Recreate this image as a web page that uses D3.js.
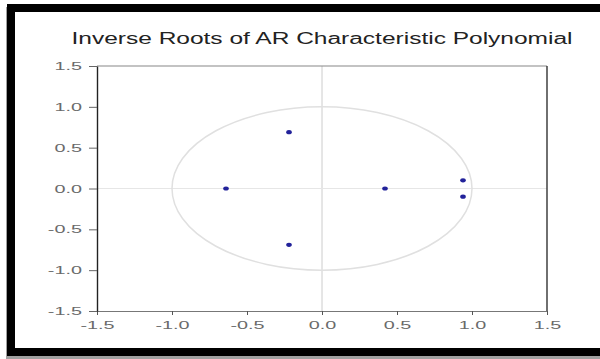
<!DOCTYPE html>
<html>
<head>
<meta charset="utf-8">
<script src="https://cdn.jsdelivr.net/npm/d3@7"></script>
<style>
  body { margin: 0; background: #fff; }
  svg text { font-family: "Liberation Sans", Arial, sans-serif; }
</style>
</head>
<body>
<svg id="viz"></svg>
<script>
// inverse roots, real and imaginary parts
let rootsRe = [-0.64, -0.22, -0.22, 0.42, 0.94, 0.94];
let rootsIm = [0, 0.69, -0.69, 0, 0.1, -0.1];
let tickVals = [-1.5, -1.0, -0.5, 0.0, 0.5, 1.0, 1.5];
let title = "Inverse Roots of AR Characteristic Polynomial";

let width = 600;
let height = 359;
let plot = {left: 97, right: 547, top: 66, bottom: 311};

let svg = d3.select("#viz")
    .attr("width", width)
    .attr("height", height);

// outer black frame with a little shadow
svg.append("rect")
    .attr("x", 9).attr("y", 10).attr("width", 620).attr("height", 346)
    .attr("fill", "none").attr("stroke", "#a0a0a0").attr("stroke-width", 6);
svg.append("rect")
    .attr("x", 11).attr("y", 8).attr("width", 620).attr("height", 344)
    .attr("fill", "#fff").attr("stroke", "#000").attr("stroke-width", 8);

let x = d3.scaleLinear().domain([-1.5, 1.5]).range([plot.left, plot.right]);
let y = d3.scaleLinear().domain([-1.5, 1.5]).range([plot.bottom, plot.top]);

// plain hyphen instead of the unicode minus
let fmt = (d) => d3.format(".1f")(d).replace("\u2212", "-");

let g = svg.append("g");

// zero lines
g.append("line")
    .attr("x1", x(0)).attr("x2", x(0)).attr("y1", y(1.5)).attr("y2", y(-1.5))
    .attr("stroke", "#cccccc").attr("stroke-width", 1);
g.append("line")
    .attr("x1", x(-1.5)).attr("x2", x(1.5)).attr("y1", y(0)).attr("y2", y(0))
    .attr("stroke", "#e6e6e6").attr("stroke-width", 1);

// unit circle
g.append("ellipse")
    .attr("cx", x(0)).attr("cy", y(0))
    .attr("rx", x(1) - x(0)).attr("ry", y(0) - y(1))
    .attr("fill", "none").attr("stroke", "#e0e0e0").attr("stroke-width", 1.5);

// frame lines
g.append("line")
    .attr("x1", plot.left).attr("x2", plot.right).attr("y1", plot.top).attr("y2", plot.top)
    .attr("stroke", "#888").attr("stroke-width", 1.2);
g.append("line")
    .attr("x1", plot.right).attr("x2", plot.right).attr("y1", plot.top).attr("y2", plot.bottom)
    .attr("stroke", "#333").attr("stroke-width", 1.4);

let xAxis = g.append("g")
    .attr("transform", "translate(0," + plot.bottom + ")")
    .call(d3.axisBottom(x).tickValues(tickVals).tickFormat(fmt).tickSize(4).tickSizeOuter(0));
let yAxis = g.append("g")
    .attr("transform", "translate(" + plot.left + ",0)")
    .call(d3.axisLeft(y).tickValues(tickVals).tickFormat(fmt).tickSize(8).tickSizeOuter(0));

xAxis.select(".domain").attr("stroke", "#777").attr("stroke-width", 1.2);
yAxis.select(".domain").attr("stroke", "#222").attr("stroke-width", 1.4);
xAxis.selectAll(".tick line").attr("stroke", "#555");
yAxis.selectAll(".tick line").attr("stroke", "#666");

xAxis.selectAll("text")
    .attr("y", 10)
    .attr("fill", "#6a6a6a")
    .style("font-size", "11px");
yAxis.selectAll("text")
    .attr("x", -15)
    .attr("fill", "#6a6a6a")
    .style("font-size", "11px");

// the picture is stretched sideways, so widen the labels the same way
svg.selectAll(".tick text").each(function() {
    let w = this.getComputedTextLength();
    d3.select(this).attr("textLength", w * 1.8).attr("lengthAdjust", "spacingAndGlyphs");
});

// roots
g.selectAll("ellipse.root")
    .data(rootsRe)
    .enter().append("ellipse")
    .attr("class", "root")
    .attr("cx", (d) => x(d))
    .attr("cy", (d, i) => y(rootsIm[i]))
    .attr("rx", 2.8)
    .attr("ry", 2.1)
    .attr("fill", "#22229a");

svg.append("text")
    .attr("x", 322)
    .attr("y", 44)
    .attr("text-anchor", "middle")
    .attr("fill", "#222")
    .style("font-size", "16px")
    .attr("textLength", 501)
    .attr("lengthAdjust", "spacingAndGlyphs")
    .text(title);
</script>
</body>
</html>
